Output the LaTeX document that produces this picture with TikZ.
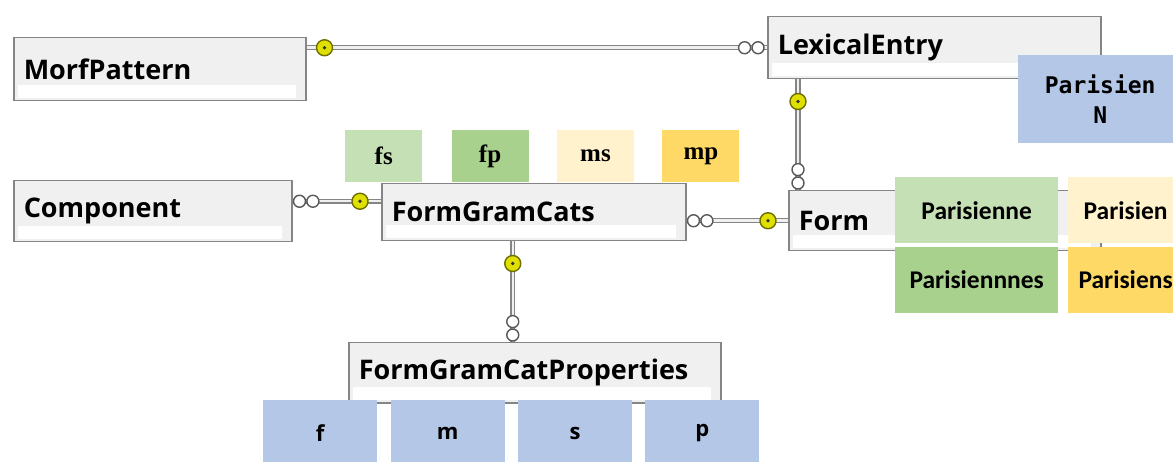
\documentclass[tikz,border=0pt]{standalone}
\usepackage{fontspec}
\setmainfont{Open Sans}
\newfontfamily\swatchfont{Liberation Serif}
\newfontfamily\valuefont{Carlito}
\newfontfamily\codefont{DejaVu Sans Mono}
\usetikzlibrary{positioning}

\definecolor{boxgrey}{HTML}{F0F0F0}
\definecolor{edgegrey}{HTML}{858585}
\definecolor{lightgreen}{HTML}{C5E0B4}
\definecolor{midgreen}{HTML}{A9D18E}
\definecolor{lightgold}{HTML}{FFF2CC}
\definecolor{midgold}{HTML}{FFD966}
\definecolor{paleblue}{HTML}{B4C7E7}
\definecolor{keyyellow}{HTML}{E0E000}
\definecolor{keyedge}{HTML}{6E6E00}

\tikzset{
  entity/.style={draw=edgegrey, line width=1.5pt, fill=boxgrey, anchor=north west,
    inner xsep=10pt, inner ysep=0pt, align=left,
    font=\bfseries\fontsize{27}{30}\selectfont,
    path picture={\fill[white] ([xshift=4pt,yshift=3pt]path picture bounding box.south west)
      rectangle ([xshift=-10pt,yshift=16pt]path picture bounding box.south east);}},
  swatch/.style={anchor=north west, minimum width=77pt, minimum height=52pt, inner sep=0pt,
    font=\swatchfont\bfseries\fontsize{25}{28}\selectfont},
  valuebox/.style={anchor=north west, minimum width=163pt, minimum height=66pt, inner sep=0pt,
    font=\valuefont\bfseries\fontsize{25.5}{28}\selectfont},
  propbox/.style={anchor=north west, fill=paleblue, minimum width=114pt, minimum height=66pt,
    inner sep=0pt, font=\bfseries\fontsize{22}{24}\selectfont},
  rel/.style={draw=edgegrey, line width=1.3pt, double=gray!12, double distance=2.5pt},
  keyend/.style={circle, draw=keyedge, line width=1.4pt, fill=keyyellow, minimum size=16pt,
    inner sep=0pt, path picture={\fill[black!80] (path picture bounding box.center) circle (1.8pt);}},
  manyend/.style={circle, draw=gray!70!black, line width=1.4pt, fill=white,
    minimum size=12pt, inner sep=0pt}
}

\begin{document}
\begin{tikzpicture}[x=1pt, y=-1pt]
  \useasboundingbox (0,0) rectangle (1173,462);

  % tables
  \node[entity, text width=272pt, minimum height=63pt] (morf) at (13,37) {MorfPattern};
  \node[entity, text width=258pt, minimum height=61pt] (comp) at (13,180) {Component};
  \node[entity, text width=313pt, minimum height=62pt] (lex) at (767,16) {LexicalEntry};
  \node[entity, text width=284pt, minimum height=57pt] (fgc) at (381,183) {FormGramCats};
  \node[entity, text width=292pt, minimum height=60pt] (form) at (788,190) {Form};
  \node[entity, text width=352pt, minimum height=60pt] (fgcp) at (348,342) {FormGramCatProperties};

  % relations
  \coordinate (r1) at (lex.west -| morf.east);
  \draw[rel] (r1) -- (lex.west);
  \node[keyend] at ([xshift=18pt]r1) {};
  \node[manyend] (m1) at ([xshift=-9pt]lex.west) {};
  \node[manyend, left=0pt of m1] {};

  \coordinate (r2) at ([yshift=11pt]fgc.west);
  \draw[rel] (r2 -| comp.east) -- (r2);
  \node[keyend] at ([xshift=-21pt]r2) {};
  \node[manyend] (m2) at ([xshift=7pt]r2 -| comp.east) {};
  \node[manyend, right=0pt of m2] {};

  \coordinate (r3) at (form.west -| fgc.east);
  \draw[rel] (r3) -- (form.west);
  \node[keyend] at ([xshift=-20pt]form.west) {};
  \node[manyend] (m3) at ([xshift=7pt]r3) {};
  \node[manyend, right=0pt of m3] {};

  \coordinate (r4) at ([xshift=31pt]lex.south west);
  \draw[rel] (r4) -- (r4 |- form.north);
  \node[keyend] at ([yshift=-22pt]r4) {};
  \node[manyend] (m4) at ([yshift=7pt]r4 |- form.north) {};
  \node[manyend, above=0pt of m4] {};

  \coordinate (r5) at ([xshift=-21pt]fgc.south);
  \draw[rel] (r5) -- (r5 |- fgcp.north);
  \node[keyend] at ([yshift=-22pt]r5) {};
  \node[manyend] (m5) at ([yshift=7pt]r5 |- fgcp.north) {};
  \node[manyend, above=0pt of m5] {};

  % gram cats
  \node[swatch, fill=lightgreen] (fs) at (345,130) {fs};
  \node[swatch, fill=midgreen, right=29pt of fs] (fp) {fp};
  \node[swatch, fill=lightgold, right=28pt of fp] (ms) {ms};
  \node[swatch, fill=midgold, right=28pt of ms] (mp) {mp};

  % lemma and forms
  \node[anchor=north west, fill=paleblue, minimum width=164pt, minimum height=88pt,
    align=center, font=\codefont\bfseries\fontsize{23}{30}\selectfont] (lemma) at (1018,55) {Parisien\\N};
  \node[valuebox, fill=lightgreen] (fsform) at (895,177) {Parisienne};
  \node[valuebox, fill=lightgold, minimum width=116pt, right=9pt of fsform] (msform) {Parisien};
  \node[valuebox, fill=midgreen, below=3pt of fsform] (fpform) {Parisiennnes};
  \node[valuebox, fill=midgold, minimum width=116pt, below=3pt of msform] (mpform) {Parisiens};

  % properties
  \node[propbox] (pf) at (263,400) {f};
  \node[propbox, right=13pt of pf] (pm) {m};
  \node[propbox, right=13pt of pm] (ps) {s};
  \node[propbox, right=13pt of ps] (pp) {p};
\end{tikzpicture}
\end{document}
